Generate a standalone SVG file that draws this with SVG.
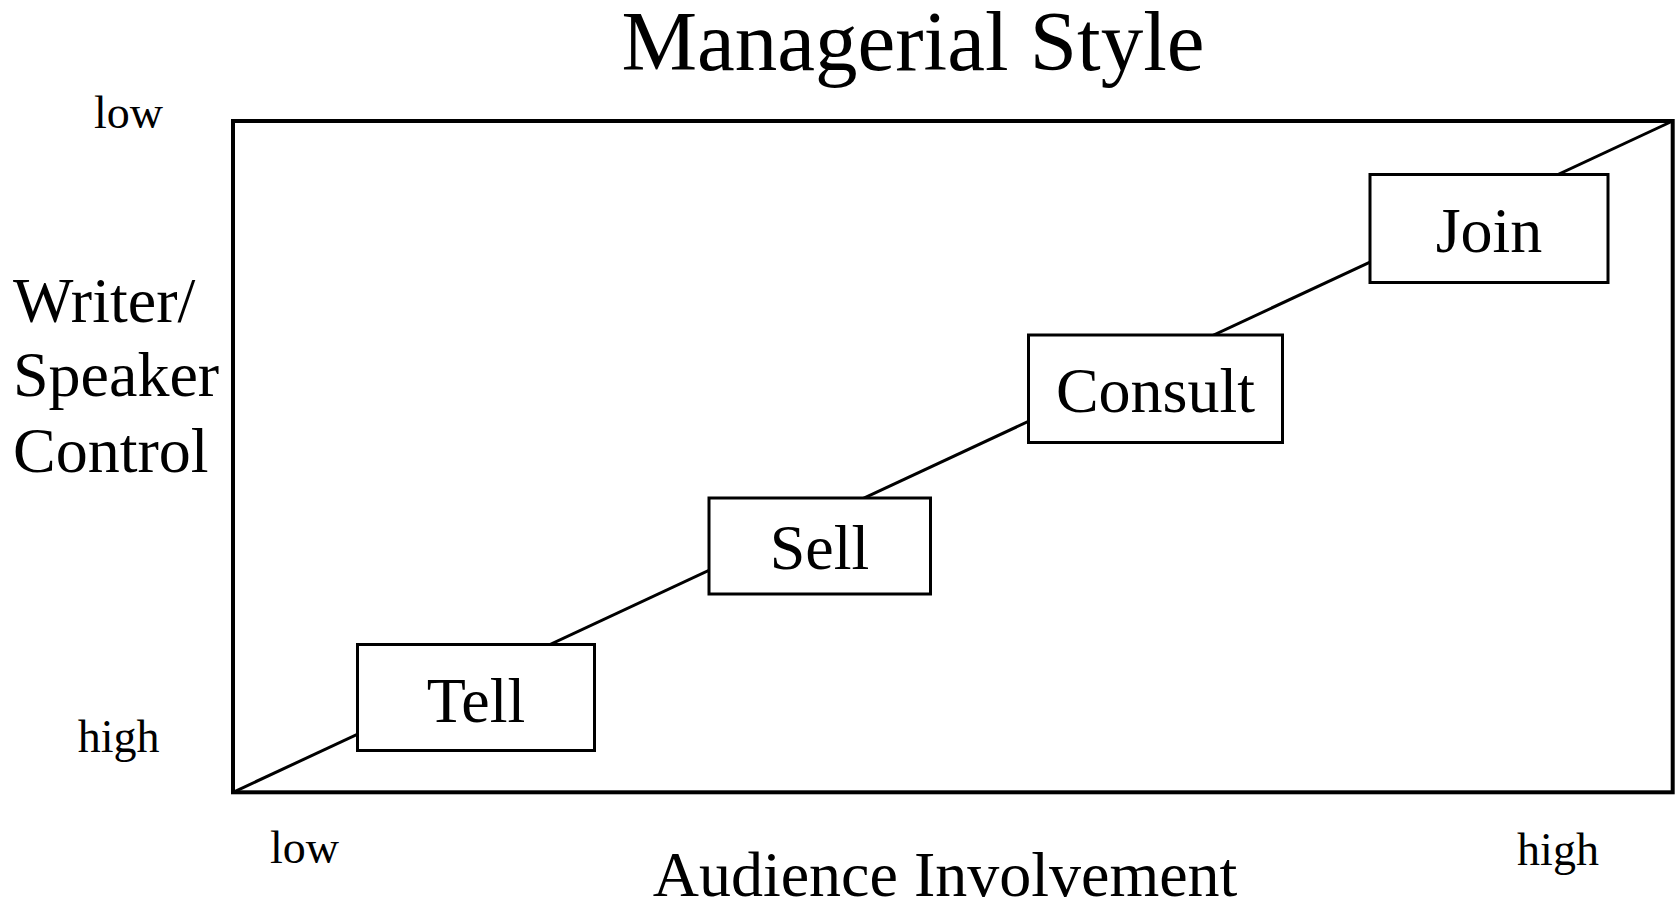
<svg xmlns="http://www.w3.org/2000/svg" width="1675" height="902" viewBox="0 0 1675 902">
<style>
text{font-family:"Liberation Serif","Times New Roman",serif;fill:#000}
.t{font-size:85px;text-anchor:middle}
.ax{font-size:46px;text-anchor:middle}
.lab{font-size:64px}
.nl{font-size:64px;text-anchor:middle}
.box{fill:#fff;stroke:#000;stroke-width:3}
.frame{fill:none;stroke:#000;stroke-width:4}
.conn{stroke:#000;stroke-width:3;fill:none}
</style>
<rect width="1675" height="902" fill="#fff"/>
<text class="t" x="913" y="70">Managerial Style</text>
<rect id="frame" class="frame" x="233" y="121" width="1439.7" height="671.3"/>
<g id="connectors">
<line class="conn" x1="233" y1="792.3" x2="1672.7" y2="121"/>
</g>
<g id="tell">
<rect class="box" x="357.5" y="644.5" width="237" height="106"/>
<text class="nl" x="476" y="722">Tell</text>
</g>
<g id="sell">
<rect class="box" x="709" y="498" width="221.5" height="96"/>
<text class="nl" x="819.5" y="569">Sell</text>
</g>
<g id="consult">
<rect class="box" x="1028.5" y="335" width="254" height="107.5"/>
<text class="nl" x="1155.5" y="412">Consult</text>
</g>
<g id="join">
<rect class="box" x="1370" y="174.5" width="238" height="108"/>
<text class="nl" x="1489" y="252">Join</text>
</g>
<g id="axis-labels">
<text class="ax" x="128.5" y="128">low</text>
<text class="ax" x="118.6" y="752">high</text>
<text class="ax" x="304.5" y="863">low</text>
<text class="ax" x="1558" y="865">high</text>
<text class="lab" x="13" y="321.5">Writer/</text>
<text class="lab" x="13" y="396">Speaker</text>
<text class="lab" x="13" y="472">Control</text>
<text class="nl" x="945" y="896">Audience Involvement</text>
</g>
</svg>
